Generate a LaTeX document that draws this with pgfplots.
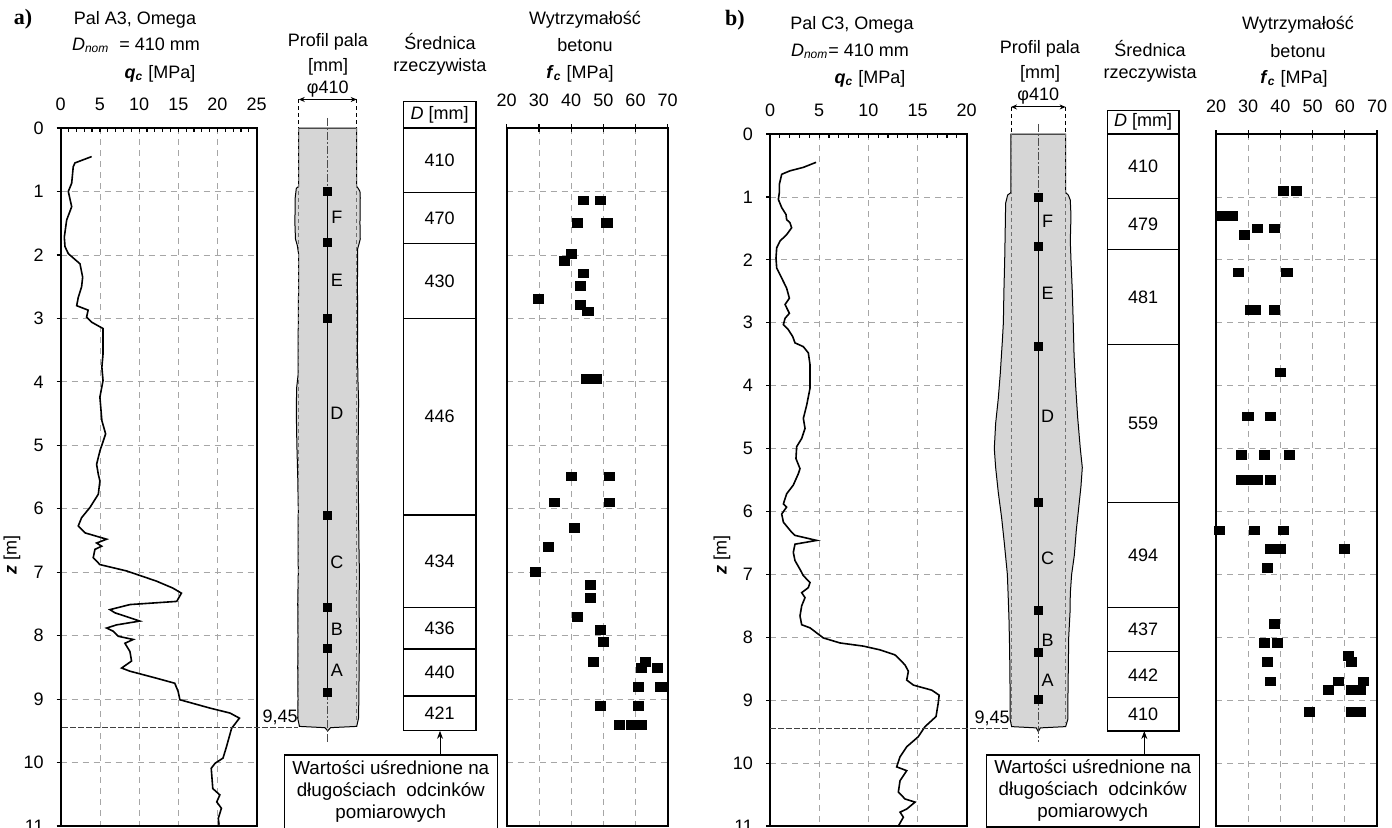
\documentclass[border=0pt]{standalone}
\usepackage{pgfplots}
\pgfplotsset{compat=1.18}
\usepackage{fontspec}
\setmainfont{Liberation Sans}
\newfontfamily\serifbf{Liberation Serif}
\usetikzlibrary{arrows.meta}

\tikzset{lvl/.style={draw=black!75, line width=0.6pt, dash pattern=on 3pt off 1pt}}
\pgfplotsset{
  gridax/.style={
    scale only axis, anchor=north west, y dir=reverse, ymin=0, ymax=11,
    ytick={0,...,11},
    axis line style={line width=1pt},
    grid=major,
    major grid style={gray!70, line width=0.4pt, dash pattern=on 3pt off 2.5pt},
    tick style={black, line width=0.6pt},
    xtick pos=upper, xticklabel pos=upper,
    ytick pos=left, yticklabel pos=left,
    /pgf/number format/assume math mode=true,
    every x tick label/.append style={yshift=5pt},
  },
  qcax/.style={gridax, tick align=inside, major tick length=2pt, minor tick length=2pt,
    y tick style={xshift=-2pt}, every y tick label/.append style={xshift=-5pt}},
  fcax/.style={gridax, tick align=center, major tick length=4pt,
    yticklabels={}, y tick style={draw=none}, xtick={20,30,...,70}, xmin=20, xmax=70},
  hid/.style={scale only axis, anchor=north west, y dir=reverse, ymin=0, ymax=11,
    hide axis, clip=false},
  curve/.style={black, line width=0.8pt},
  pts/.style={only marks, mark=square*, mark size=2.2pt, black, mark options={xscale=1.15}},
  pmk/.style={only marks, mark=square*, mark size=2pt, black},
}

\begin{document}
\begin{tikzpicture}[font=\fontsize{9}{11}\selectfont]
\path[use as bounding box] (0,0) rectangle (696pt,-413.5pt);

% ================= PANEL a =================
\node[font=\serifbf\bfseries\fontsize{11}{12}\selectfont] at (11.5pt,-9.5pt) {a)};
\node at (67.5pt,-10pt) {Pal A3, Omega};
\node at (68pt,-22.5pt) {\textit{D}\textsubscript{\textit{nom}}\ \ = 410 mm};
\node at (80pt,-37pt) {\textbf{\textit{q}}\textsubscript{\textbf{\textit{c}}} [MPa]};
\node at (164pt,-21pt) {Profil pala};
\node at (164pt,-33.5pt) {[mm]};
\node at (220pt,-21pt) {Średnica};
\node at (220pt,-33.5pt) {rzeczywista};
\node at (292.5pt,-10pt) {Wytrzymałość};
\node at (292.5pt,-22.5pt) {betonu};
\node at (290pt,-37pt) {\textbf{\textit{f}}\textsubscript{\textbf{\textit{c}}} [MPa]};
\node[rotate=90] at (6pt,-277.5pt) {\textbf{\textit{z}} [m]};

\begin{axis}[qcax, at={(30.35pt,-64pt)}, width=98pt, height=349pt,
  xmin=0, xmax=25, xtick={0,5,...,25}, minor x tick num=4]
\addplot[curve] coordinates {
(3.95,0.45)(1.82,0.55)(1.6,0.61)(1.4,0.87)(0.97,1.0)(1.4,1.24)(0.76,1.45)(0.46,1.72)
(0.55,1.87)(0.97,1.98)(2.46,2.14)(2.8,2.35)(2.67,2.5)(2.24,2.67)(2.04,2.8)(3.5,2.87)
(3.3,2.98)(3.95,3.06)(5.4,3.16)(5.4,3.56)(5.25,3.77)(5.4,3.98)(5.0,4.24)(5.25,4.61)
(5.73,4.82)(5.0,5.09)(4.58,5.3)(4.8,5.46)(5.0,5.56)(4.8,5.77)(3.73,5.98)(2.67,6.14)
(2.24,6.27)(3.1,6.38)(5.86,6.48)(4.58,6.54)(5.22,6.59)(4.37,6.64)(4.15,6.77)(5.0,6.88)
(8.4,6.98)(12.2,7.14)(14.3,7.25)(15.4,7.33)(14.8,7.46)(8.83,7.51)(6.28,7.59)(6.92,7.64)
(10.1,7.77)(7.13,7.83)(5.86,7.88)(6.7,7.93)(7.34,8.01)(9.25,8.06)(8.19,8.12)(8.83,8.25)
(9.04,8.40)(7.77,8.51)(8.83,8.56)(12.2,8.67)(14.55,8.75)(14.98,8.88)(15.2,9.01)(19.0,9.14)
(21.6,9.22)(22.8,9.30)(21.8,9.46)(21.1,9.77)(20.7,9.93)(19.7,10.01)(19.2,10.09)(19.4,10.41)
(20.3,10.51)(19.9,10.62)(20.5,10.72)(20.1,10.88)(20.2,10.98)};
\end{axis}

\begin{axis}[hid, at={(146.18pt,-64pt)}, width=35.36pt, height=349pt, xmin=-250, xmax=250]
\addplot[fill=black!16, draw=black, line width=0.5pt] coordinates {
(205,0)(205,0.92)(215,0.95)(228,1.0)(230,1.1)(228,1.5)(230,1.75)(222,1.82)(212,1.9)
(210,2.5)(212,3.0)(210,3.5)(214,4.0)(218,4.3)(216,4.8)(214,5.2)(218,6.0)(220,6.5)
(224,7.0)(222,7.5)(224,8.0)(222,8.5)(220,9.0)(218,9.3)(205,9.43)(20,9.45)(0,9.5)
(-20,9.45)(-200,9.43)(-212,9.3)(-210,9.0)(-212,8.5)(-210,8.0)(-212,7.5)(-208,7.0)
(-210,6.5)(-208,6.0)(-212,5.5)(-218,5.0)(-222,4.5)(-220,4.1)(-210,3.9)(-208,3.0)
(-206,2.5)(-205,2.0)(-215,1.85)(-228,1.75)(-232,1.5)(-230,1.1)(-222,0.95)(-205,0.92)
(-205,0)} -- cycle;
\draw[black, line width=0.4pt, dash pattern=on 2pt off 1.5pt] (axis cs:-205,-0.45) -- (axis cs:-205,0);
\draw[black, line width=0.4pt, dash pattern=on 2pt off 1.5pt] (axis cs:205,-0.45) -- (axis cs:205,0);
\draw[black!55, line width=0.4pt, dash pattern=on 2pt off 1.5pt] (axis cs:-205,0) -- (axis cs:-205,9.35);
\draw[black!55, line width=0.4pt, dash pattern=on 2pt off 1.5pt] (axis cs:205,0) -- (axis cs:205,9.35);
\draw[{Stealth[length=3pt,width=2.5pt]}-{Stealth[length=3pt,width=2.5pt]}, line width=0.5pt]
  (axis cs:-205,-0.45) -- (axis cs:205,-0.45);
\node[anchor=south, inner sep=1pt] at (axis cs:0,-0.45) {φ410};
\draw[black!70, line width=0.4pt, dash pattern=on 4pt off 1pt on 1pt off 1pt] (axis cs:0,-0.16) -- (axis cs:0,9.67);
\draw[black, line width=0.7pt] (axis cs:0,1.0) -- (axis cs:0,8.9);
\addplot[pmk] coordinates {(0,1.0)(0,1.8)(0,3.0)(0,6.1)(0,7.55)(0,8.2)(0,8.9)};
\node at (axis cs:65,1.4) {F};
\node at (axis cs:65,2.4) {E};
\node at (axis cs:65,4.5) {D};
\node at (axis cs:65,6.85) {C};
\node at (axis cs:65,7.9) {B};
\node at (axis cs:65,8.55) {A};
\draw[lvl] (axis cs:-1878,9.45) -- (axis cs:-210,9.45);
\node[anchor=south, inner sep=1pt] at (axis cs:-337,9.45) {9,45};
\end{axis}

\begin{axis}[hid, at={(201.65pt,-64pt)}, width=36.35pt, height=349pt, xmin=0, xmax=1]
\draw[line width=0.6pt] (axis cs:0,-0.42) rectangle (axis cs:1,9.5);
\pgfplotsinvokeforeach{0,1.02,1.82,3.0,6.1,7.55,8.21,8.95}
  {\draw[line width=0.6pt] (axis cs:0,#1) -- (axis cs:1,#1);}
\node at (axis cs:0.5,-0.21) {\textit{D} [mm]};
\node at (axis cs:0.5,0.51) {410};
\node at (axis cs:0.5,1.42) {470};
\node at (axis cs:0.5,2.41) {430};
\node at (axis cs:0.5,4.55) {446};
\node at (axis cs:0.5,6.83) {434};
\node at (axis cs:0.5,7.88) {436};
\node at (axis cs:0.5,8.58) {440};
\node at (axis cs:0.5,9.23) {421};
\draw[-{Stealth[length=4pt,width=3pt]}, line width=0.5pt] (axis cs:0.505,9.87) -- (axis cs:0.505,9.5);
\node[draw, line width=0.6pt, align=center, anchor=north east, inner xsep=4pt, inner ysep=2pt,
  minimum height=37pt, font=\fontsize{9.4}{11}\selectfont] at (axis cs:1.30,9.87)
  {Wartości uśrednione na\\długościach\ \ odcinków\\pomiarowych};
\end{axis}

\begin{axis}[fcax, at={(253.35pt,-64pt)}, width=80.5pt, height=349pt]
\addplot[pts] coordinates {
(43.9,1.14)(49.0,1.14)(42.0,1.49)(51.1,1.49)(40.0,1.99)(37.9,2.09)(43.9,2.29)(43.0,2.49)
(29.9,2.69)(43.0,2.79)(45.2,2.89)(44.8,3.95)(46.4,3.95)(47.9,3.95)(40.0,5.49)(52.0,5.49)
(34.9,5.90)(52.0,5.90)(40.9,6.30)(32.9,6.60)(28.9,7.00)(45.9,7.20)(45.9,7.41)(42.0,7.71)
(49.0,7.91)(49.9,8.10)(46.9,8.41)(63.0,8.41)(61.7,8.51)(66.9,8.51)(61.0,8.81)(67.9,8.81)
(49.0,9.11)(61.0,9.11)(54.9,9.41)(58.8,9.41)(60.4,9.41)(61.9,9.41)};
\end{axis}

% ================= PANEL b =================
\node[font=\serifbf\bfseries\fontsize{11}{12}\selectfont] at (367.5pt,-10pt) {b)};
\node at (426pt,-12.5pt) {Pal C3, Omega};
\node at (425pt,-25.5pt) {\textit{D}\textsubscript{\textit{nom}}= 410 mm};
\node at (435pt,-39.5pt) {\textbf{\textit{q}}\textsubscript{\textbf{\textit{c}}} [MPa]};
\node at (520pt,-24.5pt) {Profil pala};
\node at (520pt,-37pt) {[mm]};
\node at (575pt,-24.5pt) {Średnica};
\node at (575pt,-37pt) {rzeczywista};
\node at (649pt,-12.5pt) {Wytrzymałość};
\node at (649pt,-25.5pt) {betonu};
\node at (647pt,-39.5pt) {\textbf{\textit{f}}\textsubscript{\textbf{\textit{c}}} [MPa]};
\node[rotate=90] at (361pt,-277.5pt) {\textbf{\textit{z}} [m]};

\begin{axis}[qcax, at={(385pt,-67pt)}, width=98.35pt, height=346pt,
  xmin=0, xmax=20, xtick={0,5,...,20}, minor x tick num=4]
\addplot[curve] coordinates {
(4.68,0.45)(3.39,0.53)(2.03,0.585)(1.19,0.64)(0.95,0.80)(0.95,0.93)(0.85,1.04)(1.19,1.17)
(1.63,1.28)(1.69,1.36)(2.03,1.41)(2.2,1.49)(1.69,1.60)(1.02,1.70)(0.68,1.81)(0.61,1.97)
(0.68,2.13)(1.19,2.29)(1.69,2.45)(1.97,2.61)(1.53,2.71)(1.97,2.85)(1.53,2.93)(1.36,3.03)
(1.86,3.11)(2.31,3.22)(2.54,3.32)(3.39,3.38)(3.90,3.48)(4.07,3.67)(4.07,4.04)(3.73,4.31)
(3.39,4.52)(3.56,4.68)(3.22,4.84)(2.71,4.97)(2.64,5.16)(3.05,5.32)(2.88,5.40)(2.37,5.58)
(1.69,5.72)(1.36,5.88)(1.69,5.93)(1.19,6.04)(1.36,6.17)(2.2,6.33)(2.54,6.38)(4.75,6.46)
(2.54,6.52)(2.37,6.65)(2.54,6.78)(3.05,6.92)(3.39,7.02)(4.07,7.13)(3.9,7.21)(3.22,7.29)
(3.56,7.37)(3.22,7.50)(3.05,7.66)(3.22,7.80)(4.07,7.85)(5.42,8.01)(7.12,8.09)(9.49,8.14)
(11.19,8.20)(12.71,8.28)(13.05,8.33)(13.73,8.44)(14.07,8.54)(13.9,8.68)(14.58,8.76)
(16.44,8.84)(17.2,8.92)(17.1,9.05)(16.88,9.26)(15.76,9.42)(15.08,9.58)(13.9,9.74)
(13.22,9.90)(12.88,10.06)(13.9,10.12)(13.22,10.28)(13.05,10.46)(13.73,10.57)(14.75,10.62)
(13.9,10.73)(13.22,10.78)(13.56,10.86)(13.05,11.0)};
\end{axis}

\begin{axis}[hid, at={(499.15pt,-67pt)}, width=40pt, height=346pt, xmin=-300, xmax=300]
\addplot[fill=black!16, draw=black, line width=0.5pt] coordinates {
(205,0)(205,0.93)(225,0.97)(240,1.05)(245,1.3)(240,1.7)(245,2.0)(255,2.5)(262,3.0)
(268,3.5)(280,4.0)(295,4.5)(315,5.0)(330,5.3)(320,5.6)(305,5.9)(285,6.3)(270,6.7)
(250,7.0)(240,7.3)(238,7.6)(228,8.0)(225,8.5)(222,9.0)(222,9.3)(205,9.42)(15,9.44)(0,9.5)
(-15,9.44)(-200,9.42)(-212,9.3)(-212,8.8)(-215,8.2)(-220,7.7)(-225,7.4)(-232,7.0)
(-255,6.5)(-275,6.1)(-300,5.7)(-320,5.3)(-330,5.0)(-320,4.6)(-300,4.2)(-285,3.8)
(-270,3.3)(-262,3.0)(-258,2.5)(-252,2.0)(-248,1.5)(-245,1.1)(-230,0.97)(-205,0.93)
(-205,0)} -- cycle;
\draw[black, line width=0.4pt, dash pattern=on 2pt off 1.5pt] (axis cs:-205,-0.43) -- (axis cs:-205,0);
\draw[black, line width=0.4pt, dash pattern=on 2pt off 1.5pt] (axis cs:205,-0.43) -- (axis cs:205,0);
\draw[black!55, line width=0.4pt, dash pattern=on 2pt off 1.5pt] (axis cs:-205,0) -- (axis cs:-205,9.35);
\draw[black!55, line width=0.4pt, dash pattern=on 2pt off 1.5pt] (axis cs:205,0) -- (axis cs:205,9.35);
\draw[{Stealth[length=3pt,width=2.5pt]}-{Stealth[length=3pt,width=2.5pt]}, line width=0.5pt]
  (axis cs:-205,-0.43) -- (axis cs:205,-0.43);
\node[anchor=south, inner sep=1pt] at (axis cs:0,-0.43) {φ410};
\draw[black!70, line width=0.4pt, dash pattern=on 4pt off 1pt on 1pt off 1pt] (axis cs:0,-0.16) -- (axis cs:0,9.67);
\draw[black, line width=0.7pt] (axis cs:0,1.0) -- (axis cs:0,8.98);
\addplot[pmk] coordinates {(0,1.0)(0,1.78)(0,3.37)(0,5.86)(0,7.57)(0,8.24)(0,8.98)};
\node at (axis cs:70,1.39) {F};
\node at (axis cs:70,2.53) {E};
\node at (axis cs:70,4.49) {D};
\node at (axis cs:70,6.75) {C};
\node at (axis cs:70,8.04) {B};
\node at (axis cs:70,8.68) {A};
\draw[lvl] (axis cs:-2012,9.45) -- (axis cs:-212,9.45);
\node[anchor=south, inner sep=1pt] at (axis cs:-347,9.45) {9,45};
\end{axis}

\begin{axis}[hid, at={(553.65pt,-67pt)}, width=35.85pt, height=346pt, xmin=0, xmax=1]
\draw[line width=0.6pt] (axis cs:0,-0.38) rectangle (axis cs:1,9.49);
\pgfplotsinvokeforeach{0,1.03,1.83,3.35,5.86,7.53,8.23,8.96}
  {\draw[line width=0.6pt] (axis cs:0,#1) -- (axis cs:1,#1);}
\node at (axis cs:0.5,-0.19) {\textit{D} [mm]};
\node at (axis cs:0.5,0.515) {410};
\node at (axis cs:0.5,1.43) {479};
\node at (axis cs:0.5,2.59) {481};
\node at (axis cs:0.5,4.6) {559};
\node at (axis cs:0.5,6.7) {494};
\node at (axis cs:0.5,7.88) {437};
\node at (axis cs:0.5,8.6) {442};
\node at (axis cs:0.5,9.22) {410};
\draw[-{Stealth[length=4pt,width=3pt]}, line width=0.5pt] (axis cs:0.516,9.86) -- (axis cs:0.516,9.49);
\node[draw, line width=0.6pt, align=center, anchor=north east, inner xsep=4pt, inner ysep=2pt,
  minimum height=36pt, font=\fontsize{9.4}{11}\selectfont] at (axis cs:1.29,9.86)
  {Wartości uśrednione na\\długościach\ \ odcinków\\pomiarowych};
\end{axis}

\begin{axis}[fcax, at={(608pt,-67pt)}, width=80.5pt, height=346pt]
\addplot[pts] coordinates {
(41.0,0.90)(45.1,0.90)(22.0,1.30)(25.1,1.30)(32.9,1.50)(38.0,1.50)(28.9,1.60)(26.9,2.20)
(42.0,2.20)(30.7,2.79)(32.1,2.79)(38.0,2.79)(40.0,3.79)(29.9,4.49)(37.0,4.49)(27.9,5.10)
(34.9,5.10)(42.8,5.10)(27.9,5.50)(30.4,5.50)(32.9,5.50)(37.0,5.50)(21.0,6.30)(31.9,6.30)
(41.0,6.30)(37.0,6.60)(40.0,6.60)(60.0,6.60)(36.0,6.90)(38.0,7.79)(34.9,8.09)(39.0,8.09)
(36.0,8.39)(37.0,8.70)(61.0,8.29)(62.0,8.39)(58.0,8.70)(65.8,8.70)(55.0,8.84)(62.0,8.84)
(64.7,8.84)(49.1,9.19)(62.0,9.19)(64.7,9.19)};
\end{axis}
\end{tikzpicture}
\end{document}
